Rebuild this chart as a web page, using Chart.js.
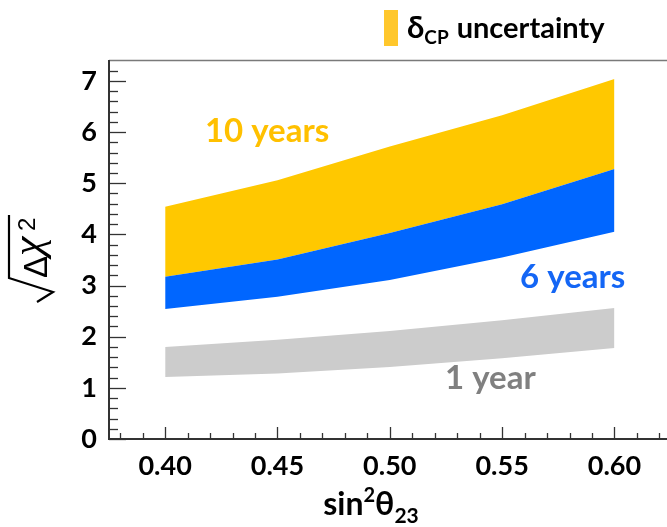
<!DOCTYPE html>
<html>
<head>
<meta charset="utf-8">
<script src="https://cdn.jsdelivr.net/npm/chart.js@4.4.1/dist/chart.umd.min.js"></script>
<style>
  html, body { margin: 0; padding: 0; background: #ffffff; }
  canvas { display: block; }
</style>
</head>
<body>
<canvas id="chart" width="667" height="527"></canvas>
<script>
// sin^2(theta23) sampling points
const sin2Theta23 = [0.40, 0.45, 0.50, 0.55, 0.60];
// sqrt(delta chi^2) band edges (spread from the delta_CP uncertainty)
const tenYearsUpper = [4.54, 5.06, 5.72, 6.33, 7.04];
const sixYearsUpper = [3.17, 3.51, 4.03, 4.59, 5.28]; // also lower edge of the 10-year band
const sixYearsLower = [2.54, 2.78, 3.11, 3.55, 4.05];
const oneYearUpper  = [1.80, 1.94, 2.11, 2.32, 2.56];
const oneYearLower  = [1.21, 1.28, 1.41, 1.58, 1.78];
// axis tick values
const xTickValues = [0.40, 0.45, 0.50, 0.55, 0.60];
const yTickValues = [0, 1, 2, 3, 4, 5, 6, 7];

const YELLOW = '#FFC800';
const BLUE = '#0066FF';
const GREY = '#CCCCCC';

const pts = ys => sin2Theta23.map((x, i) => ({ x, y: ys[i] }));
const edge = (data, fill, color) => ({
  data: pts(data),
  fill: fill,
  backgroundColor: color,
  borderColor: 'rgba(0,0,0,0)',
  borderWidth: 0,
  pointRadius: 0,
  tension: 0
});

// draw a sequence of text runs (with sub/superscripts)
function drawRuns(ctx, x, y, runs, align) {
  ctx.save();
  ctx.textBaseline = 'alphabetic';
  ctx.textAlign = 'left';
  let total = 0;
  runs.forEach(r => { ctx.font = r.font; r.w = ctx.measureText(r.t).width; total += r.w + (r.gap || 0); });
  let cx = align === 'center' ? x - total / 2 : x;
  runs.forEach(r => {
    ctx.font = r.font;
    ctx.fillStyle = r.color || '#000';
    ctx.fillText(r.t, cx, y + (r.dy || 0));
    cx += r.w + (r.gap || 0);
  });
  ctx.restore();
}

const decorations = {
  id: 'decorations',
  afterDraw(chart) {
    const { ctx, chartArea: a, scales: { x, y } } = chart;
    ctx.save();

    // top frame line
    ctx.strokeStyle = '#7a7a7a';
    ctx.lineWidth = 1.5;
    ctx.beginPath();
    ctx.moveTo(a.left, a.top + 0.5);
    ctx.lineTo(a.right, a.top + 0.5);
    ctx.stroke();

    // axis lines
    ctx.strokeStyle = '#333333';
    ctx.lineWidth = 2;
    ctx.beginPath();
    ctx.moveTo(a.left, a.top);
    ctx.lineTo(a.left, a.bottom);
    ctx.lineTo(a.right, a.bottom);
    ctx.stroke();

    // inward tick marks
    ctx.lineWidth = 1.3;
    for (let k = 0; k <= 37; k++) {
      const v = k * 0.2;
      const py = Math.round(y.getPixelForValue(v)) + 0.5;
      if (py < a.top + 2) continue;
      const len = k % 5 === 0 ? 17 : 9;
      ctx.beginPath();
      ctx.moveTo(a.left, py);
      ctx.lineTo(a.left + len, py);
      ctx.stroke();
    }
    for (let k = 38; k <= 62; k++) {
      const v = k / 100;
      const px = Math.round(x.getPixelForValue(v)) + 0.5;
      if (px > a.right - 1) continue;
      const len = k % 5 === 0 ? 12 : 6;
      ctx.beginPath();
      ctx.moveTo(px, a.bottom);
      ctx.lineTo(px, a.bottom - len);
      ctx.stroke();
    }

    // band labels
    ctx.font = 'bold 33px Lato';
    ctx.textBaseline = 'alphabetic';
    ctx.textAlign = 'left';
    ctx.fillStyle = '#FFC000';
    ctx.fillText('10 years', x.getPixelForValue(0.4177), y.getPixelForValue(5.81));
    ctx.fillStyle = '#1466F5';
    ctx.fillText('6 years', x.getPixelForValue(0.558), y.getPixelForValue(2.95));
    ctx.fillStyle = '#808080';
    ctx.fillText('1 year', x.getPixelForValue(0.5246), y.getPixelForValue(0.98));

    // legend
    ctx.fillStyle = '#FFC72C';
    ctx.fillRect(384, 10, 14, 36);
    drawRuns(ctx, 407, 38, [
      { t: 'δ', font: 'bold 31px Lato' },
      { t: 'CP', font: 'bold 19px Lato', dy: 6, gap: 8 },
      { t: 'uncertainty', font: 'bold 29px Lato' }
    ]);

    // x-axis title
    drawRuns(ctx, 371, 515, [
      { t: 'sin', font: 'bold 32px Lato' },
      { t: '2', font: 'bold 20px Lato', dy: -13 },
      { t: 'θ', font: 'bold 32px Lato' },
      { t: '23', font: 'bold 21px Lato', dy: 8 }
    ], 'center');

    // y-axis title: sqrt(delta chi^2), rotated
    ctx.save();
    ctx.translate(31, 258);
    ctx.rotate(-Math.PI / 2);
    ctx.fillStyle = '#000';
    ctx.textBaseline = 'alphabetic';
    ctx.textAlign = 'left';
    ctx.font = '33px "Liberation Sans"';
    ctx.fillText('Δ', -20, 16);
    ctx.font = 'italic 44px "Liberation Serif"';
    ctx.fillText('χ', 2, 11);
    ctx.font = '24px "Liberation Sans"';
    ctx.fillText('2', 27, 4);
    // radical sign
    ctx.strokeStyle = '#000';
    ctx.lineWidth = 2.2;
    ctx.lineJoin = 'miter';
    ctx.beginPath();
    ctx.moveTo(-44, 6);
    ctx.lineTo(-34, 22);
    ctx.lineTo(-20, -22);
    ctx.lineTo(43, -22);
    ctx.stroke();
    ctx.restore();

    ctx.restore();
  }
};

new Chart(document.getElementById('chart'), {
  type: 'line',
  data: {
    datasets: [
      edge(oneYearLower, false, GREY),
      edge(oneYearUpper, '-1', GREY),
      edge(sixYearsLower, false, BLUE),
      edge(sixYearsUpper, '-1', BLUE),
      edge(tenYearsUpper, '-1', YELLOW)
    ]
  },
  options: {
    responsive: false,
    animation: false,
    devicePixelRatio: 1,
    layout: { padding: { top: 60, left: 0, right: 0, bottom: 0 } },
    plugins: { legend: { display: false }, tooltip: { enabled: false } },
    scales: {
      x: {
        type: 'linear',
        min: 0.375,
        max: 0.6234,
        grid: { display: false, drawTicks: false },
        border: { display: false },
        afterBuildTicks: s => { s.ticks = xTickValues.map(v => ({ value: v })); },
        afterFit: s => { s.height = 88; },
        ticks: {
          padding: 11,
          color: '#000',
          font: { family: 'Lato', weight: 'bold', size: 27 },
          maxRotation: 0,
          callback: v => Number(v).toFixed(2)
        }
      },
      y: {
        type: 'linear',
        min: 0,
        max: 7.41,
        grid: { display: false, drawTicks: false },
        border: { display: false },
        afterBuildTicks: s => { s.ticks = yTickValues.map(v => ({ value: v })); },
        afterFit: s => { s.width = 109; },
        ticks: {
          padding: 12,
          color: '#000',
          font: { family: 'Lato', weight: 'bold', size: 27 },
          callback: v => String(v)
        }
      }
    }
  },
  plugins: [decorations]
});
</script>
</body>
</html>
